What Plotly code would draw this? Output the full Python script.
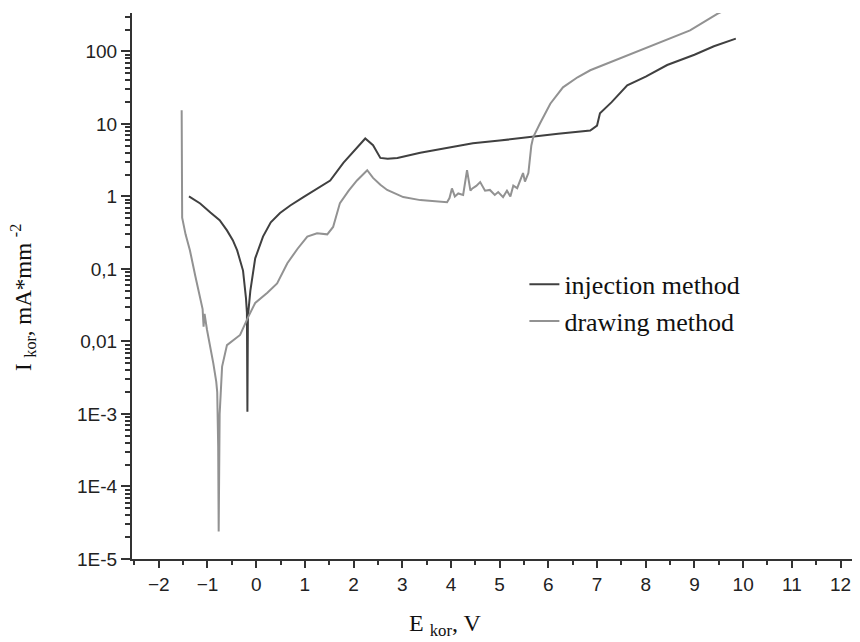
import plotly.graph_objects as go

# ---- data ----
inj_x = [-1.38, -1.15, -0.94, -0.75, -0.60, -0.48, -0.39, -0.27, -0.21, -0.19, -0.18,
         -0.17, -0.12, -0.07, -0.02, 0.14, 0.30, 0.49, 0.70, 0.97, 1.25, 1.52, 1.79,
         2.07, 2.24, 2.40, 2.55, 2.70, 2.90, 3.37, 3.90, 4.39, 4.45, 5.00, 5.60, 6.20,
         6.86, 7.00, 7.06, 7.30, 7.62, 8.00, 8.44, 9.00, 9.40, 9.85]
inj_y = [1.0, 0.80, 0.60, 0.47, 0.34, 0.25, 0.18, 0.095, 0.040, 0.025, 1.07e-3,
         0.022, 0.05, 0.09, 0.14, 0.28, 0.44, 0.59, 0.75, 0.98, 1.3, 1.66, 2.9,
         4.8, 6.3, 5.1, 3.4, 3.3, 3.4, 4.0, 4.6, 5.2, 5.4, 5.9, 6.6, 7.3,
         8.1, 9.5, 14, 20, 34, 45, 65, 90, 118, 150]

drw_x = [-1.53, -1.52, -1.45, -1.36, -1.25, -1.15, -1.10, -1.08, -1.06, -1.01, -0.93,
         -0.88, -0.82, -0.80, -0.78, -0.77, -0.75, -0.72, -0.70, -0.60, -0.45, -0.33,
         -0.16, -0.02, 0.23, 0.43, 0.64, 0.85, 1.05, 1.25, 1.46, 1.58, 1.72, 1.90,
         2.07, 2.28, 2.40, 2.55, 2.69, 3.02, 3.37, 3.70, 3.92, 3.97, 4.02, 4.08, 4.15,
         4.25, 4.33, 4.40, 4.44, 4.52, 4.60, 4.70, 4.80, 4.90, 4.97, 5.07, 5.15, 5.22,
         5.28, 5.36, 5.42, 5.48, 5.52, 5.59, 5.65, 5.69, 5.83, 6.04, 6.30, 6.60, 6.86,
         7.30, 7.89, 8.40, 8.91, 9.47, 9.80]
drw_y = [15.5, 0.51, 0.30, 0.18, 0.08, 0.037, 0.028, 0.016, 0.024, 0.0145, 0.008,
         0.005, 0.0028, 0.002, 3.5e-4, 2.4e-5, 1e-3, 0.0032, 0.0045, 0.0089, 0.0107, 0.0123,
         0.022, 0.034, 0.047, 0.063, 0.12, 0.19, 0.28, 0.31, 0.30, 0.38, 0.81, 1.2,
         1.66, 2.3, 1.8, 1.45, 1.23, 0.98, 0.89, 0.85, 0.83, 0.95, 1.29, 1.0, 1.10,
         1.05, 2.3, 1.2, 1.29, 1.4, 1.58, 1.2, 1.23, 1.05, 1.15, 0.98, 1.2, 1.0,
         1.41, 1.3, 1.66, 2.1, 1.6, 2.1, 5.0, 6.6, 10.2, 19, 32, 44, 55,
         72, 102, 140, 195, 330, 420]

x_ticks = list(range(-2, 13))
y_tickvals = [1e-5, 1e-4, 1e-3, 1e-2, 1e-1, 1, 10, 100]
y_ticktext = ["1E-5", "1E-4", "1E-3", "0,01", "0,1", "1", "10", "100"]

fig = go.Figure()
fig.add_trace(go.Scatter(x=inj_x, y=inj_y, mode="lines", name="injection method",
                         line=dict(color="#404040", width=2)))
fig.add_trace(go.Scatter(x=drw_x, y=drw_y, mode="lines", name="drawing method",
                         line=dict(color="#929292", width=2)))

serif = "Liberation Serif, Times New Roman"
tickfont = dict(family="Liberation Sans, Arial", size=19, color="#222")
fig.update_layout(
    width=852, height=634,
    margin=dict(l=124, r=0, t=5, b=83),
    paper_bgcolor="white", plot_bgcolor="white",
    showlegend=True,
    legend=dict(x=0.539, y=0.546, xanchor="left", yanchor="top",
                font=dict(family=serif, size=26, color="#111"),
                bgcolor="rgba(0,0,0,0)", itemwidth=30, tracegroupgap=0),
    xaxis=dict(range=[-2.55, 12.4], tickvals=x_ticks, ticks="outside", ticklen=7,
               tickwidth=2, tickcolor="#333", showline=True, linecolor="#333", linewidth=2,
               showgrid=False, zeroline=False, tickfont=tickfont,
               minor=dict(dtick=0.5, ticks="outside", ticklen=4, tickwidth=2, tickcolor="#333",
                          showgrid=False)),
    yaxis=dict(type="log", range=[-5, 2.53], tickvals=y_tickvals, ticktext=y_ticktext,
               ticks="outside", ticklen=9, tickwidth=2, tickcolor="#333",
               showline=True, linecolor="#333", linewidth=2, showgrid=False, zeroline=False,
               tickfont=tickfont,
               minor=dict(dtick="D1", ticks="outside", ticklen=5, tickwidth=1.5,
                          tickcolor="#333", showgrid=False)),
)

fig.add_annotation(text="E <sub>kor</sub>, V", xref="paper", yref="paper",
                   x=0.43, y=-0.121, xanchor="center", yanchor="middle", showarrow=False,
                   font=dict(family=serif, size=24, color="#111"))
fig.add_annotation(text="I <sub>kor</sub>, mA*mm <sup>-2</sup>", xref="paper", yref="paper",
                   x=-0.151, y=0.478, xanchor="center", yanchor="middle",
                   textangle=-90, showarrow=False,
                   font=dict(family=serif, size=23, color="#111"))

fig.write_html("out.html")
